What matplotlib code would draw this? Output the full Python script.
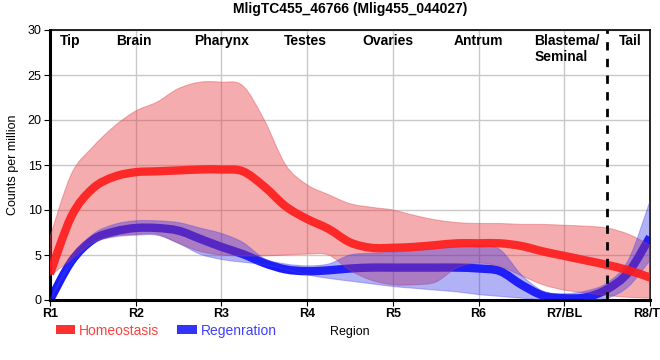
import matplotlib
matplotlib.use("Agg")
import matplotlib.pyplot as plt
from matplotlib.patches import Patch, PathPatch
from matplotlib.path import Path

# region positions (R1..R8 at 0..7), values read at quarter steps
x_pos = [i * 0.25 for i in range(29)]
regions = ["R1", "R2", "R3", "R4", "R5", "R6", "R7/BL", "R8/TL"]
tissues = ["Tip", "Brain", "Pharynx", "Testes", "Ovaries", "Antrum", "Blastema/\nSeminal", "Tail"]
tissue_x = [0.12, 0.77, 1.68, 2.73, 3.65, 4.71, 5.65, 6.64]

hom_mean = [2.9, 9.3, 12.4, 13.7, 14.2, 14.3, 14.4, 14.5, 14.5, 14.3, 12.6, 10.4, 9.0, 7.9,
            6.4, 5.8, 5.8, 5.9, 6.1, 6.3, 6.3, 6.3, 6.0, 5.4, 4.9, 4.4, 3.9, 3.3, 2.5]
hom_upper = [7.0, 14.0, 17.0, 19.3, 21.0, 22.0, 23.5, 24.2, 24.2, 23.8, 20.0, 15.0, 12.8, 11.7,
             10.7, 10.3, 10.0, 9.4, 8.9, 8.6, 8.5, 8.5, 8.4, 8.4, 8.3, 8.2, 8.0, 7.3, 6.1]
hom_lower = [2.7, 4.5, 6.4, 7.1, 7.3, 7.3, 6.3, 5.4, 5.0, 4.9, 4.9, 5.0, 5.1, 5.0,
             3.3, 2.2, 1.7, 1.7, 2.0, 3.6, 4.1, 3.7, 2.7, 1.7, 1.1, 0.8, 0.5, 0.3, 0.2]

reg_mean = [0.0, 4.3, 6.7, 7.6, 8.0, 8.0, 7.7, 6.8, 5.9, 5.1, 4.1, 3.4, 3.2, 3.3,
            3.5, 3.6, 3.6, 3.6, 3.6, 3.6, 3.5, 3.2, 1.7, 0.5, 0.2, 0.3, 1.2, 3.1, 7.0]
reg_upper = [0.0, 4.6, 7.3, 8.4, 8.8, 8.8, 8.6, 8.0, 7.4, 6.4, 4.6, 4.0, 3.8, 4.0,
             5.0, 5.2, 5.3, 5.5, 5.7, 5.9, 6.1, 5.6, 2.8, 1.0, 0.7, 1.0, 1.9, 4.5, 11.0]
reg_lower = [0.0, 4.0, 6.3, 7.0, 7.2, 7.2, 6.3, 5.1, 4.5, 4.2, 3.9, 3.4, 2.8, 2.4,
             2.1, 1.8, 1.5, 1.3, 1.1, 0.9, 0.6, 0.4, 0.2, 0.0, -0.3, 0.0, 0.2, 1.5, 4.4]

RED = "#ff1a1a"
BLUE = "#1a1aff"


def smooth_segments(xs, ys):
    # bezier control points (catmull-rom) so the path passes through every point
    verts = []
    n = len(xs)
    for i in range(n - 1):
        x0, y0 = xs[max(i - 1, 0)], ys[max(i - 1, 0)]
        x3, y3 = xs[min(i + 2, n - 1)], ys[min(i + 2, n - 1)]
        c1 = (xs[i] + (xs[i + 1] - x0) / 6, ys[i] + (ys[i + 1] - y0) / 6)
        c2 = (xs[i + 1] - (x3 - xs[i]) / 6, ys[i + 1] - (y3 - ys[i]) / 6)
        verts += [c1, c2, (xs[i + 1], ys[i + 1])]
    return verts


def curve_path(xs, ys):
    verts = [(xs[0], ys[0])] + smooth_segments(xs, ys)
    codes = [Path.MOVETO] + [Path.CURVE4] * (len(verts) - 1)
    return Path(verts, codes)


def band_path(xs, lo, hi):
    up = smooth_segments(xs, hi)
    down = smooth_segments(xs[::-1], lo[::-1])
    verts = [(xs[0], hi[0])] + up + [(xs[-1], lo[-1])] + down + [(xs[0], hi[0])]
    codes = ([Path.MOVETO] + [Path.CURVE4] * len(up) + [Path.LINETO]
             + [Path.CURVE4] * len(down) + [Path.CLOSEPOLY])
    return Path(verts, codes)


plt.rcParams["font.family"] = ["Liberation Sans", "DejaVu Sans"]

fig = plt.figure(figsize=(6.6, 3.6), dpi=100)
ax = fig.add_axes([50 / 660, 60 / 360, 600 / 660, 270 / 360])

# blue line sits under the bands so it turns purple inside the pink band
ax.add_patch(PathPatch(curve_path(x_pos, reg_mean), fill=False, edgecolor=BLUE, lw=6,
                       capstyle="butt", joinstyle="round", zorder=2))
ax.add_patch(PathPatch(band_path(x_pos, hom_lower, hom_upper), facecolor="#e83a40",
                       alpha=0.42, edgecolor="#e05058", lw=0.8, zorder=3))
ax.add_patch(PathPatch(band_path(x_pos, reg_lower, reg_upper), facecolor="#2828e8",
                       alpha=0.36, edgecolor="#4a4ae8", lw=0.8, zorder=3.5))
ax.add_patch(PathPatch(curve_path(x_pos, hom_mean), fill=False, edgecolor=RED, lw=6,
                       alpha=0.9, capstyle="butt", joinstyle="round", zorder=4))

ax.axvline(6.5, color="black", lw=2, ls=(0, (3, 3)), zorder=6)

for t, tx in zip(tissues, tissue_x):
    ax.text(tx, 29.6, t, ha="left", va="top", fontsize=10, fontweight="bold", zorder=7)

ax.set_xlim(0, 7)
ax.set_ylim(0, 30)
ax.set_xticks(range(len(regions)))
ax.set_xticklabels(regions, fontweight="bold", fontsize=9)
ax.set_yticks([0, 5, 10, 15, 20, 25, 30])
ax.tick_params(axis="y", labelsize=9, length=4, pad=2)
ax.tick_params(axis="x", length=4, pad=2)
ax.grid(True, color="#c8c8c8", lw=1, zorder=0)
ax.set_axisbelow(True)
for side in ["left", "bottom"]:
    ax.spines[side].set_linewidth(2.2)
for side in ["top", "right"]:
    ax.spines[side].set_linewidth(1.2)

ax.set_ylabel("Counts per million", fontsize=9, labelpad=6)
ax.set_xlabel("Region", fontsize=9, labelpad=4)
ax.set_title("MligTC455_46766 (Mlig455_044027)", fontsize=10, fontweight="bold", pad=12)

handles = [Patch(facecolor="#ff3030", edgecolor="none", label="Homeostasis"),
           Patch(facecolor="#3333ff", edgecolor="none", label="Regenration")]
leg = fig.legend(handles=handles, loc="upper left", bbox_to_anchor=(50 / 660, 1 - 318 / 360),
                 ncol=2, frameon=False, fontsize=10, handlelength=1.4, handleheight=0.6,
                 handletextpad=0.3, columnspacing=1.3, borderaxespad=0)
for txt, c in zip(leg.get_texts(), ["#ff4040", "#4040ff"]):
    txt.set_color(c)

fig.savefig("out.png", dpi=100)
